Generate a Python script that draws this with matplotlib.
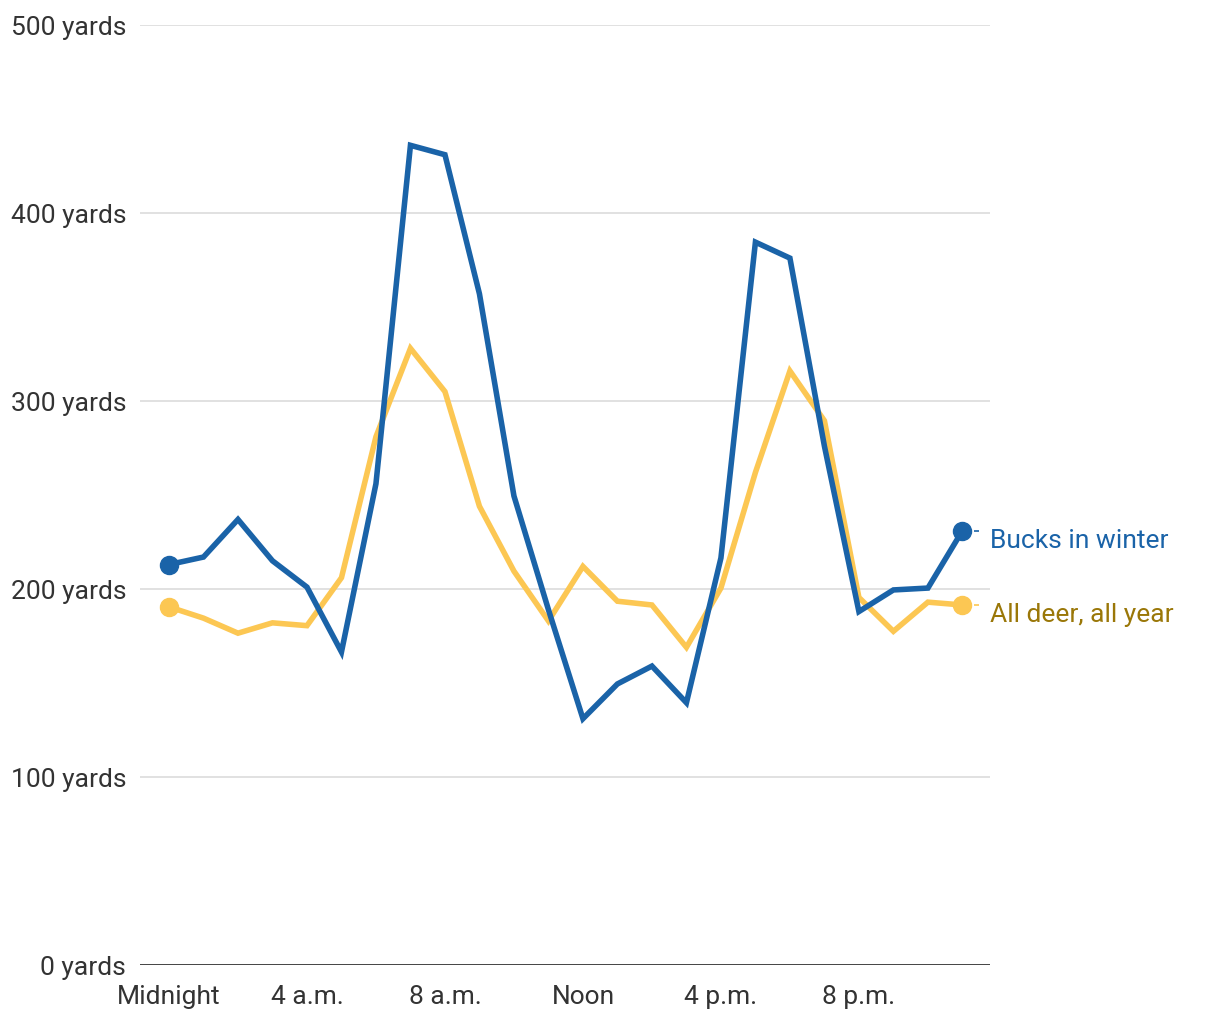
import matplotlib.pyplot as plt

hours = list(range(24))
tick_hours = [0, 4, 8, 12, 16, 20]
tick_labels = ["Midnight", "4 a.m.", "8 a.m.", "Noon", "4 p.m.", "8 p.m."]
y_ticks = [0, 100, 200, 300, 400, 500]

bucks_winter = [213, 217, 237, 215, 201, 166.5, 256, 436, 431, 357, 249.5, 189,
                131, 149.5, 159, 139.5, 216.5, 384.5, 376, 276, 188, 199.5, 200.5, 231]
all_deer = [190.5, 184.5, 176.5, 182, 180.5, 206, 281, 328, 305, 244, 209.5, 183,
            212, 193.5, 191.5, 169, 200.5, 262, 316, 289.5, 195.5, 177.5, 193, 191.5]

BLUE = "#1a63a8"
YELLOW = "#fcc753"
GOLD_TEXT = "#9a7708"

plt.rcParams['font.family'] = ['Roboto', 'DejaVu Sans']

fig = plt.figure(figsize=(12.2, 10.2), dpi=100)
ax = fig.add_axes([140 / 1220, 54 / 1020, 850 / 1220, 940 / 1020])

for y in y_ticks[1:]:
    ax.axhline(y, color="#dcdcdc", lw=1.2, zorder=1)
ax.axhline(0, color="#333333", lw=2, zorder=2)

ax.plot(hours, all_deer, color=YELLOW, lw=4, solid_joinstyle="miter", zorder=3)
ax.plot(hours, bucks_winter, color=BLUE, lw=4, solid_joinstyle="miter", zorder=4)

for series, color in [(all_deer, YELLOW), (bucks_winter, BLUE)]:
    ax.plot([hours[0], hours[-1]], [series[0], series[-1]], "o", color=color,
            ms=13, zorder=5)
    ax.plot([hours[-1] + 0.35, hours[-1] + 0.6], [series[-1], series[-1]],
            color=color, lw=1.2, ls=(0, (3, 3)), zorder=2)

ax.text(hours[-1] + 0.8, bucks_winter[-1] - 5, "Bucks in winter", color=BLUE,
        fontsize=19, va="center", ha="left")
ax.text(hours[-1] + 0.8, all_deer[-1] - 5, "All deer, all year", color=GOLD_TEXT,
        fontsize=19, va="center", ha="left")

ax.set_xlim(-0.84, 23.8)
ax.set_ylim(0, 500)
ax.set_yticks(y_ticks)
ax.set_yticklabels([f"{v} yards" for v in y_ticks])
ax.set_xticks(tick_hours)
ax.set_xticklabels(tick_labels)
ax.tick_params(axis="y", length=0, pad=10, labelsize=19, labelcolor="#333333")
ax.tick_params(axis="x", length=0, pad=14, labelsize=19, labelcolor="#333333")
for s in ax.spines.values():
    s.set_visible(False)

fig.savefig("out.png", dpi=100)
